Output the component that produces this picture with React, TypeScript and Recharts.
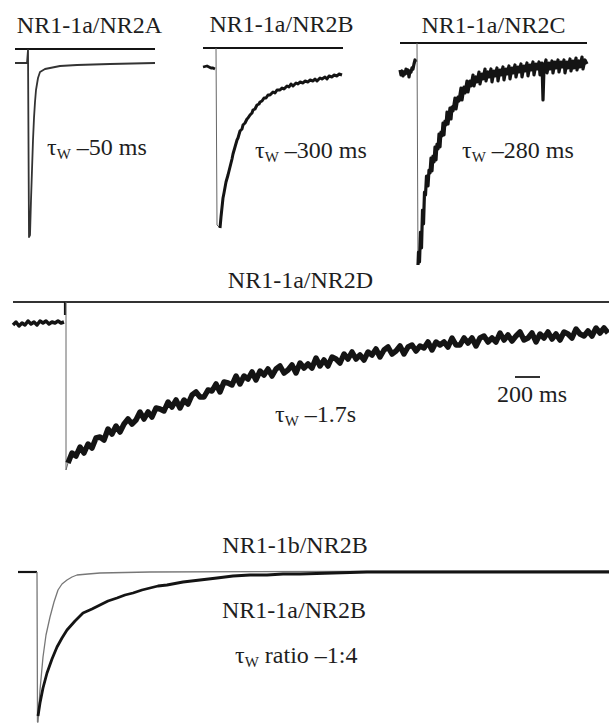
import { LineChart, Line, XAxis, YAxis } from 'recharts'

type Pt = [number, number] // [t, i]: time from onset, current from baseline (negative = inward)

// ---- NR1-1a/NR2A ----
const A_BAR: Pt[] = [[-13, 14], [127, 14]]
const A_TRACE: Pt[] = [
  [-13, 0], [-1, 0], [0, 13], [1, -174], [2, -172], [3, -137], [4, -107], [5, -77], [6, -55],
  [7, -39], [8, -27], [10, -15], [12, -9], [17, -6], [22, -5], [32, -3], [49, -2], [82, -1], [127, 0],
]

// ---- NR1-1a/NR2B ----
const B_BAR: Pt[] = [[-13, 19], [127, 19]]
const B_PRE: Pt[] = [[-13, 0], [-9, 1], [-5, -1], [-3, -1], [-1, -2]]
const B_DROP: Pt[] = [[0, 19], [1, -158], [4, -161]]
const B_DECAY: Pt[] = [
  [4, -161], [5, -150], [7, -131], [8, -126], [10, -115], [12, -108], [14, -100], [16, -92], [17, -87],
  [19, -80], [21, -73], [22, -71], [24, -64], [26, -62], [27, -58], [29, -56], [31, -52], [32, -51],
  [34, -48], [36, -46], [37, -43], [39, -42], [41, -38], [43, -37], [44, -35], [46, -34], [48, -31],
  [50, -31], [52, -28], [54, -28], [57, -25], [59, -26], [61, -23], [64, -23], [66, -21], [68, -22],
  [71, -19], [73, -20], [75, -17], [77, -19], [80, -16], [82, -17], [84, -15], [87, -16], [89, -14],
  [92, -15], [94, -13], [97, -14], [99, -12], [101, -14], [104, -11], [106, -12], [109, -10], [111, -12],
  [113, -9], [116, -10], [118, -8], [121, -9], [123, -7], [126, -8],
]

// ---- NR1-1a/NR2C ----
const C_BAR: Pt[] = [[-17, 29], [170, 29]]
const C_PRE: Pt[] = [
  [-17, 2], [-16, -3], [-15, 1], [-14, -4], [-13, 0], [-12, -2], [-11, 3], [-10, -1], [-9, 2],
  [-8, -5], [-7, 1], [-6, 0], [-5, 4], [-4, 3], [-3, 8], [-2, 12], [-1, 10],
]
const C_DROP: Pt[] = [[0, 29], [1, -193]]
const C_DECAY: Pt[] = [
  [1, -193], [1.5, -180], [2.5, -190], [3.5, -160], [4.5, -176], [5.5, -138], [6.5, -152], [7.5, -120],
  [8.5, -123], [9.5, -104], [11, -114], [12, -98], [13, -101], [14, -86], [15, -99], [16, -84], [17, -90],
  [18, -75], [19, -88], [20, -72], [21, -77], [22, -62], [23, -75], [24, -60], [25, -64], [26, -51],
  [27, -63], [28, -49], [29, -53], [30, -40], [31, -52], [33, -36], [34, -47], [35, -35], [36, -39],
  [38, -26], [39, -37], [41, -25], [42, -29], [44, -16], [45, -28], [47, -15], [48, -21], [50, -9],
  [51, -20], [53, -9], [54, -14], [56, -3], [57, -14], [59, -5], [60, -10], [62, 0], [63, -12], [65, -2],
  [66, -7], [68, 3], [69, -9], [71, 0], [72, -5], [74, 3], [75, -10], [77, 1], [78, -4], [80, 4], [81, -9],
  [83, 2], [84, -3], [86, 5], [87, -8], [89, 3], [90, -2], [92, 6], [93, -7], [95, 4], [96, -1], [98, 7],
  [99, -5], [101, 5], [102, 0], [104, 8], [105, -5], [107, 6], [108, 1], [110, 9], [111, -4], [113, 7],
  [114, 2], [116, 10], [117, -3], [119, 8], [120, 3], [122, 10], [123, -3], [125, 9], [126, -28], [127, 4],
  [129, 12], [130, -1], [132, 9], [133, 3], [135, 11], [136, -1], [138, 10], [139, 4], [141, 12], [142, 0],
  [144, 10], [145, 5], [147, 12], [148, -1], [150, 10], [151, 4], [153, 13], [154, 1], [156, 11], [157, 4],
  [159, 14], [160, 2], [162, 11], [163, 5], [165, 15], [166, 3], [168, 12], [170, 8],
]

// ---- NR1-1a/NR2D (scale bar: 200 ms) ----
const D_BAR: Pt[] = [[-53, 21], [543, 21]]
const D_PRE: Pt[] = [
  [-53, -2], [-50, 1], [-47, -3], [-44, 0], [-41, -2], [-38, 2], [-35, -1], [-32, 1], [-29, -2],
  [-26, 2], [-23, 0], [-20, 2], [-17, -1], [-14, 1], [-11, 0], [-8, 2], [-5, 0], [-2, 1],
]
const D_TICK: Pt[] = [[-1, 21], [-1, 8]]
const D_DROP: Pt[] = [[0, 21], [0, -147], [2, -140]]
// sampled every 4 units from t = 2
const D_DECAY_START = 2
const D_DECAY_STEP = 4
const D_DECAY_I = [
  -140, -130, -133, -124, -130, -121, -125, -115, -114, -117,
  -106, -111, -103, -109, -101, -96, -101, -97, -89, -96,
  -89, -94, -85, -86, -88, -79, -84, -77, -85, -77,
  -81, -72, -69, -74, -74, -67, -68, -61, -69, -59,
  -60, -62, -53, -61, -53, -56, -49, -57, -48, -52,
  -46, -53, -46, -43, -50, -47, -42, -50, -40, -45,
  -41, -45, -35, -43, -37, -43, -34, -36, -40, -31,
  -36, -29, -36, -32, -37, -29, -32, -26, -34, -27,
  -24, -31, -28, -23, -31, -24, -22, -28, -23, -25,
  -19, -27, -19, -22, -19, -24, -15, -22, -22, -15,
  -20, -15, -23, -15, -13, -19, -15, -19, -10, -17,
  -12, -18, -13, -9, -17, -15, -10, -19, -11, -15,
  -9, -16, -11, -17, -9, -11, -15, -6, -11, -13,
  -8, -13, -5, -10, -5, -10,
]
const D_SCALEBAR: Pt[] = [[449, -54], [474, -54]]

// ---- NR1-1b/NR2B vs NR1-1a/NR2B ----
const E_PRE: Pt[] = [[-19, 0], [0, 0]]
const E_FAST: Pt[] = [
  [0, 0], [0.5, -150], [1, -150], [3, -118], [6, -85], [9, -63], [13, -45], [17, -30], [21, -18],
  [25, -12], [30, -8], [35, -5], [40, -3], [51, -2], [63, -1], [113, 0], [300, 0.5], [572, 1],
]
const E_SLOW: Pt[] = [
  [1, -144], [3, -131], [6, -116], [10, -101], [15, -87], [20, -75], [25, -66], [30, -58], [38, -49],
  [46, -41], [55, -37], [63, -33], [71, -29], [80, -26], [88, -23], [96, -21], [105, -18], [113, -16],
  [121, -14], [130, -13], [146, -10], [163, -8], [180, -6], [196, -4], [213, -3], [230, -3], [246, -2],
  [263, -2], [296, -1], [330, 0], [363, 0], [572, 0],
]

const TITLES = ['NR1-1a/NR2A', 'NR1-1a/NR2B', 'NR1-1a/NR2C', 'NR1-1a/NR2D', 'NR1-1b/NR2B', 'NR1-1a/NR2B']
const TAU_TEXT = [' –50 ms', ' –300 ms', ' –280 ms', ' –1.7s', ' ratio –1:4']
const SCALE_TEXT = '200 ms'

const SERIF = '"Liberation Serif", "DejaVu Serif", serif'
const INK = '#141414'

interface Series {
  data: Pt[]
  stroke?: string
  width: number
}

interface PanelProps {
  left: number
  top: number
  width: number
  height: number
  x0: number
  y0: number
  series: Series[]
}

function Panel({ left, top, width, height, x0, y0, series }: PanelProps) {
  const tDomain: [number, number] = [left - x0, left + width - x0]
  const iDomain: [number, number] = [y0 - (top + height), y0 - top]
  return (
    <div style={{ position: 'absolute', left, top }}>
      <LineChart width={width} height={height} margin={{ top: 0, right: 0, bottom: 0, left: 0 }}>
        <XAxis type="number" dataKey="t" domain={tDomain} hide allowDataOverflow />
        <YAxis type="number" domain={iDomain} hide allowDataOverflow />
        {series.map((s, k) => (
          <Line
            key={k}
            data={s.data.map(([t, i]) => ({ t, i }))}
            dataKey="i"
            type="linear"
            stroke={s.stroke ?? INK}
            strokeWidth={s.width}
            strokeLinejoin="round"
            dot={false}
            activeDot={false}
            isAnimationActive={false}
          />
        ))}
      </LineChart>
    </div>
  )
}

function Tau({ x, y, rest }: { x: number; y: number; rest: string }) {
  return (
    <text x={x} y={y} fontSize={24}>
      τ
      <tspan fontSize={15} dy={4}>W</tspan>
      <tspan dy={-4}>{rest}</tspan>
    </text>
  )
}

export default function App() {
  const dDecay: Pt[] = D_DECAY_I.map((v, k) => [D_DECAY_START + k * D_DECAY_STEP, v])
  return (
    <div style={{ position: 'absolute', left: 0, top: 0, width: 609, height: 723, background: '#fff', overflow: 'hidden' }}>
      <Panel
        left={8} top={40} width={157} height={205} x0={28} y0={63}
        series={[
          { data: A_BAR, width: 2.2 },
          { data: A_TRACE, stroke: '#333', width: 1.8 },
        ]}
      />
      <Panel
        left={196} top={40} width={156} height={195} x0={216} y0={67}
        series={[
          { data: B_BAR, width: 2.2 },
          { data: B_PRE, width: 2.8 },
          { data: B_DROP, stroke: '#666', width: 1 },
          { data: B_DECAY, width: 3 },
        ]}
      />
      <Panel
        left={394} top={34} width={200} height={240} x0={417} y0={72}
        series={[
          { data: C_BAR, width: 2.2 },
          { data: C_PRE, width: 3.2 },
          { data: C_DROP, stroke: '#666', width: 1 },
          { data: C_DECAY, width: 3.2 },
        ]}
      />
      <Panel
        left={8} top={294} width={601} height={186} x0={66} y0={323}
        series={[
          { data: D_BAR, stroke: '#333', width: 2 },
          { data: D_PRE, width: 3.5 },
          { data: D_TICK, width: 2.2 },
          { data: D_DROP, stroke: '#666', width: 1 },
          { data: dDecay, width: 5.5 },
          { data: D_SCALEBAR, stroke: '#333', width: 2 },
        ]}
      />
      <Panel
        left={8} top={560} width={601} height={163} x0={37} y0={572}
        series={[
          { data: E_PRE, width: 2.2 },
          { data: E_FAST, stroke: '#777', width: 1.3 },
          { data: E_SLOW, width: 2.8 },
        ]}
      />
      <svg
        width={609}
        height={723}
        style={{ position: 'absolute', left: 0, top: 0, pointerEvents: 'none', fontFamily: SERIF }}
        fill="#1e1e1e"
      >
        <g fontSize={24} textAnchor="middle">
          <text x={89.5} y={33}>{TITLES[0]}</text>
          <text x={281.5} y={32}>{TITLES[1]}</text>
          <text x={493.5} y={33}>{TITLES[2]}</text>
          <text x={300.5} y={288}>{TITLES[3]}</text>
          <text x={295} y={553}>{TITLES[4]}</text>
          <text x={294} y={618}>{TITLES[5]}</text>
          <text x={532} y={402}>{SCALE_TEXT}</text>
        </g>
        <Tau x={47} y={155} rest={TAU_TEXT[0]} />
        <Tau x={255} y={158} rest={TAU_TEXT[1]} />
        <Tau x={462} y={158} rest={TAU_TEXT[2]} />
        <Tau x={275} y={422} rest={TAU_TEXT[3]} />
        <Tau x={235} y={663} rest={TAU_TEXT[4]} />
      </svg>
    </div>
  )
}
